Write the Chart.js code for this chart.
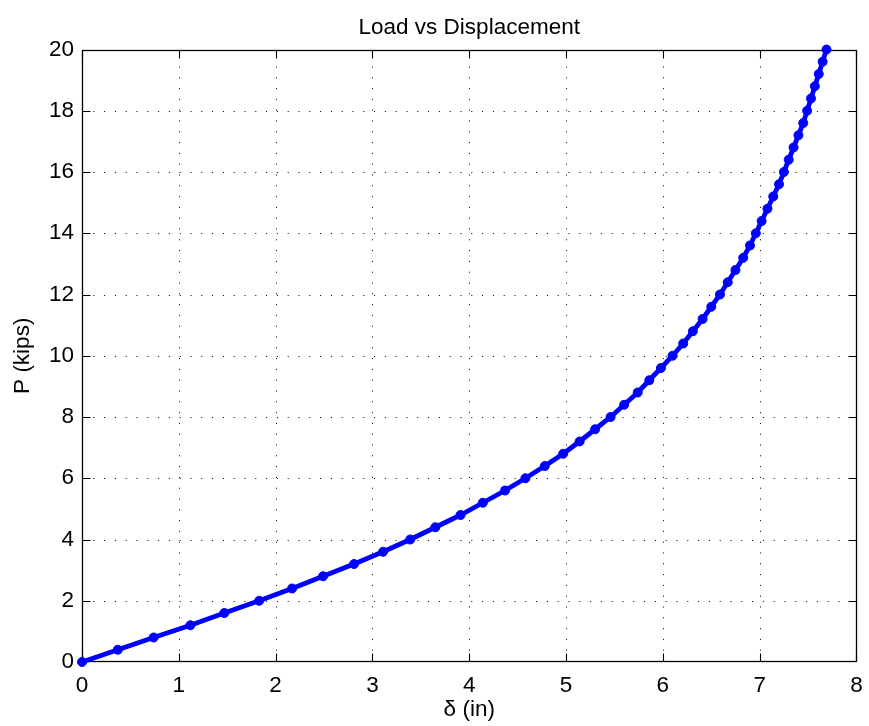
<!DOCTYPE html>
<html><head><meta charset="utf-8">
<script src="https://cdn.jsdelivr.net/npm/chart.js@4/dist/chart.umd.min.js"></script>
<style>html,body{margin:0;padding:0;background:#fff;} #wrap{width:869px;height:726px;}</style>
</head><body>
<div id="wrap"><canvas id="c" width="869" height="726"></canvas></div>
<script>
const titleText = 'Load vs Displacement';
const xLabel = 'δ (in)';
const yLabel = 'P (kips)';

// Load P (kips)
const load = [0, 0.4, 0.8, 1.2, 1.6, 2.0, 2.4, 2.8, 3.2, 3.6, 4.0, 4.4, 4.8, 5.2, 5.6, 6.0, 6.4, 6.8, 7.2, 7.6,
  8.0, 8.4, 8.8, 9.2, 9.6, 10.0, 10.4, 10.8, 11.2, 11.6, 12.0, 12.4, 12.8, 13.2, 13.6, 14.0, 14.4, 14.8, 15.2, 15.6,
  16.0, 16.4, 16.8, 17.2, 17.6, 18.0, 18.4, 18.8, 19.2, 19.6, 20.0];
// Displacement δ (in)
const displacement = [0, 0.37, 0.74, 1.12, 1.47, 1.83, 2.17, 2.49, 2.81, 3.11, 3.39, 3.65, 3.91, 4.14, 4.37, 4.58, 4.78, 4.97, 5.14, 5.30,
  5.46, 5.60, 5.74, 5.86, 5.98, 6.10, 6.21, 6.31, 6.41, 6.50, 6.59, 6.67, 6.75, 6.83, 6.90, 6.96, 7.02, 7.08, 7.14, 7.20,
  7.25, 7.30, 7.35, 7.40, 7.45, 7.49, 7.53, 7.57, 7.61, 7.65, 7.69];

const xTicks = [0, 1, 2, 3, 4, 5, 6, 7, 8];
const yTicks = [0, 2, 4, 6, 8, 10, 12, 14, 16, 18, 20];

const FONT = '"Liberation Sans", Arial, Helvetica, sans-serif';
const FS = 22.5;

const matlabAxes = {
  id: 'matlabAxes',
  afterLayout(chart) {
    // centre the title over the plot area, as in the reference
    const t = chart.titleBlock;
    if (t) {
      t.left = chart.chartArea.left;
      t.right = chart.chartArea.right;
      t.width = t.right - t.left;
    }
  },
  beforeDatasetsDraw(chart) {
    const {ctx, chartArea: a, scales: {x, y}} = chart;
    const L = Math.round(a.left) + 0.5, R = Math.round(a.right) - 0.5;
    const T = Math.round(a.top) + 0.5, B = Math.round(a.bottom) - 0.5;
    const clampX = p => Math.min(R, Math.max(L, Math.round(p) + 0.5));
    const clampY = p => Math.min(B, Math.max(T, Math.round(p) + 0.5));
    ctx.save();
    // dotted grid
    ctx.strokeStyle = '#000';
    ctx.lineWidth = 1;
    ctx.setLineDash([1, 9.8]);
    xTicks.forEach(v => {
      if (v === x.min || v === x.max) return;
      const px = clampX(x.getPixelForValue(v));
      ctx.beginPath(); ctx.moveTo(px, B); ctx.lineTo(px, T); ctx.stroke();
    });
    yTicks.forEach(v => {
      if (v === y.min || v === y.max) return;
      const py = clampY(y.getPixelForValue(v));
      ctx.beginPath(); ctx.moveTo(L, py); ctx.lineTo(R, py); ctx.stroke();
    });
    ctx.setLineDash([]);
    // frame
    ctx.lineWidth = 1.3;
    ctx.strokeRect(L, T, R - L, B - T);
    // inward ticks
    const tl = 8;
    ctx.lineWidth = 1.1;
    ctx.beginPath();
    xTicks.forEach(v => {
      const px = clampX(x.getPixelForValue(v));
      ctx.moveTo(px, B); ctx.lineTo(px, B - tl);
      ctx.moveTo(px, T); ctx.lineTo(px, T + tl);
    });
    yTicks.forEach(v => {
      const py = clampY(y.getPixelForValue(v));
      ctx.moveTo(L, py); ctx.lineTo(L + tl, py);
      ctx.moveTo(R, py); ctx.lineTo(R - tl, py);
    });
    ctx.stroke();
    ctx.restore();
  }
};

new Chart(document.getElementById('c'), {
  type: 'scatter',
  data: {
    datasets: [{
      data: displacement.map((d, i) => ({x: d, y: load[i]})),
      showLine: true,
      borderColor: '#0000ff',
      backgroundColor: '#0000ff',
      pointBorderColor: '#0000ff',
      borderWidth: 4.8,
      pointRadius: 4.5,
      pointBorderWidth: 1,
      pointHoverRadius: 4.5,
      tension: 0,
      clip: false
    }]
  },
  options: {
    responsive: false,
    animation: false,
    devicePixelRatio: 1,
    events: [],
    layout: {padding: {left: 0, right: 12.5, top: 0, bottom: 0}},
    plugins: {
      legend: {display: false},
      tooltip: {enabled: false},
      title: {
        display: true, text: titleText, color: '#000',
        font: {family: FONT, size: FS, weight: 'normal', lineHeight: 1},
        padding: {top: 16.75, bottom: 10.25}
      }
    },
    scales: {
      x: {
        type: 'linear', min: 0, max: 8,
        afterBuildTicks: s => { s.ticks = xTicks.map(v => ({value: v})); },
        afterFit: s => { s.height = 64; s.paddingLeft = 0; s.paddingRight = 0; },
        grid: {display: false, drawTicks: false},
        border: {display: false},
        ticks: {color: '#000', font: {family: FONT, size: FS}, padding: 10, maxRotation: 0, autoSkip: false},
        title: {display: true, text: xLabel, color: '#000', font: {family: FONT, size: FS, lineHeight: 1}, padding: {top: 0, bottom: 4.5}}
      },
      y: {
        type: 'linear', min: 0, max: 20,
        afterBuildTicks: s => { s.ticks = yTicks.map(v => ({value: v})); },
        afterFit: s => { s.width = 82; s.paddingTop = 0; s.paddingBottom = 0; },
        grid: {display: false, drawTicks: false},
        border: {display: false},
        ticks: {color: '#000', font: {family: FONT, size: FS}, padding: 8, autoSkip: false},
        title: {display: true, text: yLabel, color: '#000', font: {family: FONT, size: FS, lineHeight: 1}, padding: {top: 12, bottom: 0}}
      }
    }
  },
  plugins: [matlabAxes]
});
</script>
</body></html>
